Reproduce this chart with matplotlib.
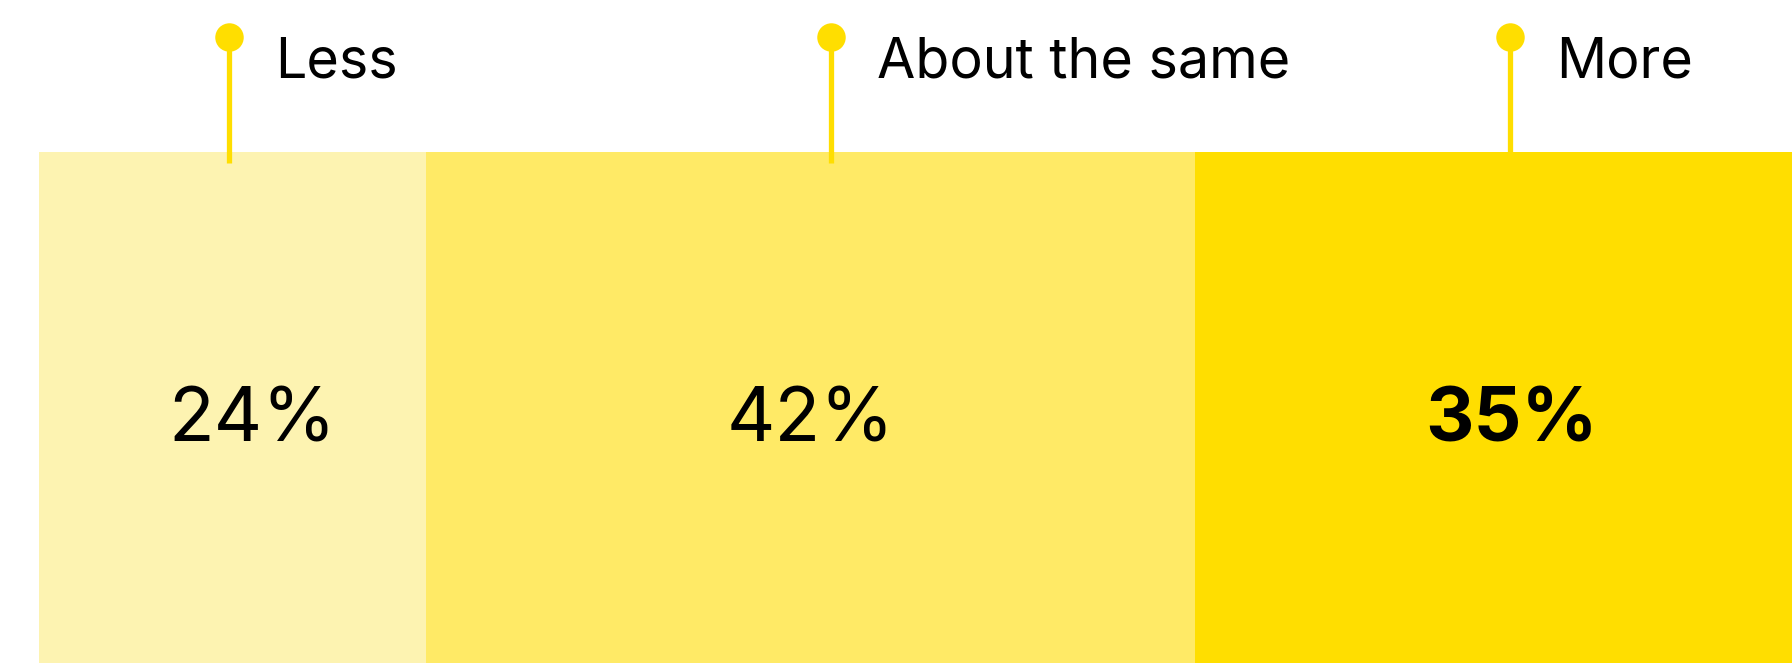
import matplotlib.pyplot as plt
import matplotlib.transforms as mtransforms

plt.rcParams['font.family'] = ['Inter', 'DejaVu Sans']

categories = ['Less', 'About the same', 'More']
values = [24, 42, 35]
pct_labels = ['24%', '42%', '35%']
colors = ['#FDF3B1', '#FFEA66', '#FFDE00']
pin_color = '#FFDE00'

# where pins / numbers sit along the bar (data units)
pin_x = [13.2, 46.1, 83.2]
num_x = [14.5, 45.0, 83.3]

W, H = 1792, 663
fig = plt.figure(figsize=(W / 100, H / 100), dpi=100)
fig.patch.set_facecolor('white')

bar_top = 151.7
ax = fig.add_axes([39 / W, 0, 1 - 39 / W, (H - bar_top) / H])

lefts = [sum(values[:i]) for i in range(len(values))]
ax.barh(0, values, left=lefts, height=1, color=colors, edgecolor='none')
ax.set_xlim(2.84, 98.6)
ax.set_ylim(-0.5, 0.5)
ax.axis('off')

# x in data, y in figure fraction
blend = mtransforms.blended_transform_factory(ax.transData, fig.transFigure)

y_dot = 1 - 37 / H
y_stem = 1 - 163 / H
y_lab = 1 - 77.3 / H
y_num = 1 - 442 / H

for i, cat in enumerate(categories):
    px = pin_x[i]
    ax.plot([px, px], [y_stem, y_dot], transform=blend, color=pin_color,
            lw=3.8, solid_capstyle='butt', clip_on=False, zorder=5)
    ax.plot([px], [y_dot], 'o', transform=blend, color=pin_color,
            markersize=20.5, markeredgewidth=0, clip_on=False, zorder=6)
    ax.annotate(cat, xy=(px, y_lab), xycoords=blend,
                xytext=(46 * 0.72, 0), textcoords='offset points',
                ha='left', va='baseline', fontsize=40, color='black',
                annotation_clip=False)

    ax.text(num_x[i], y_num, pct_labels[i], transform=blend,
            ha='center', va='baseline', fontsize=54, color='black',
            fontweight='bold' if i == 2 else 'normal', zorder=7)

fig.savefig('out.png', dpi=100)
